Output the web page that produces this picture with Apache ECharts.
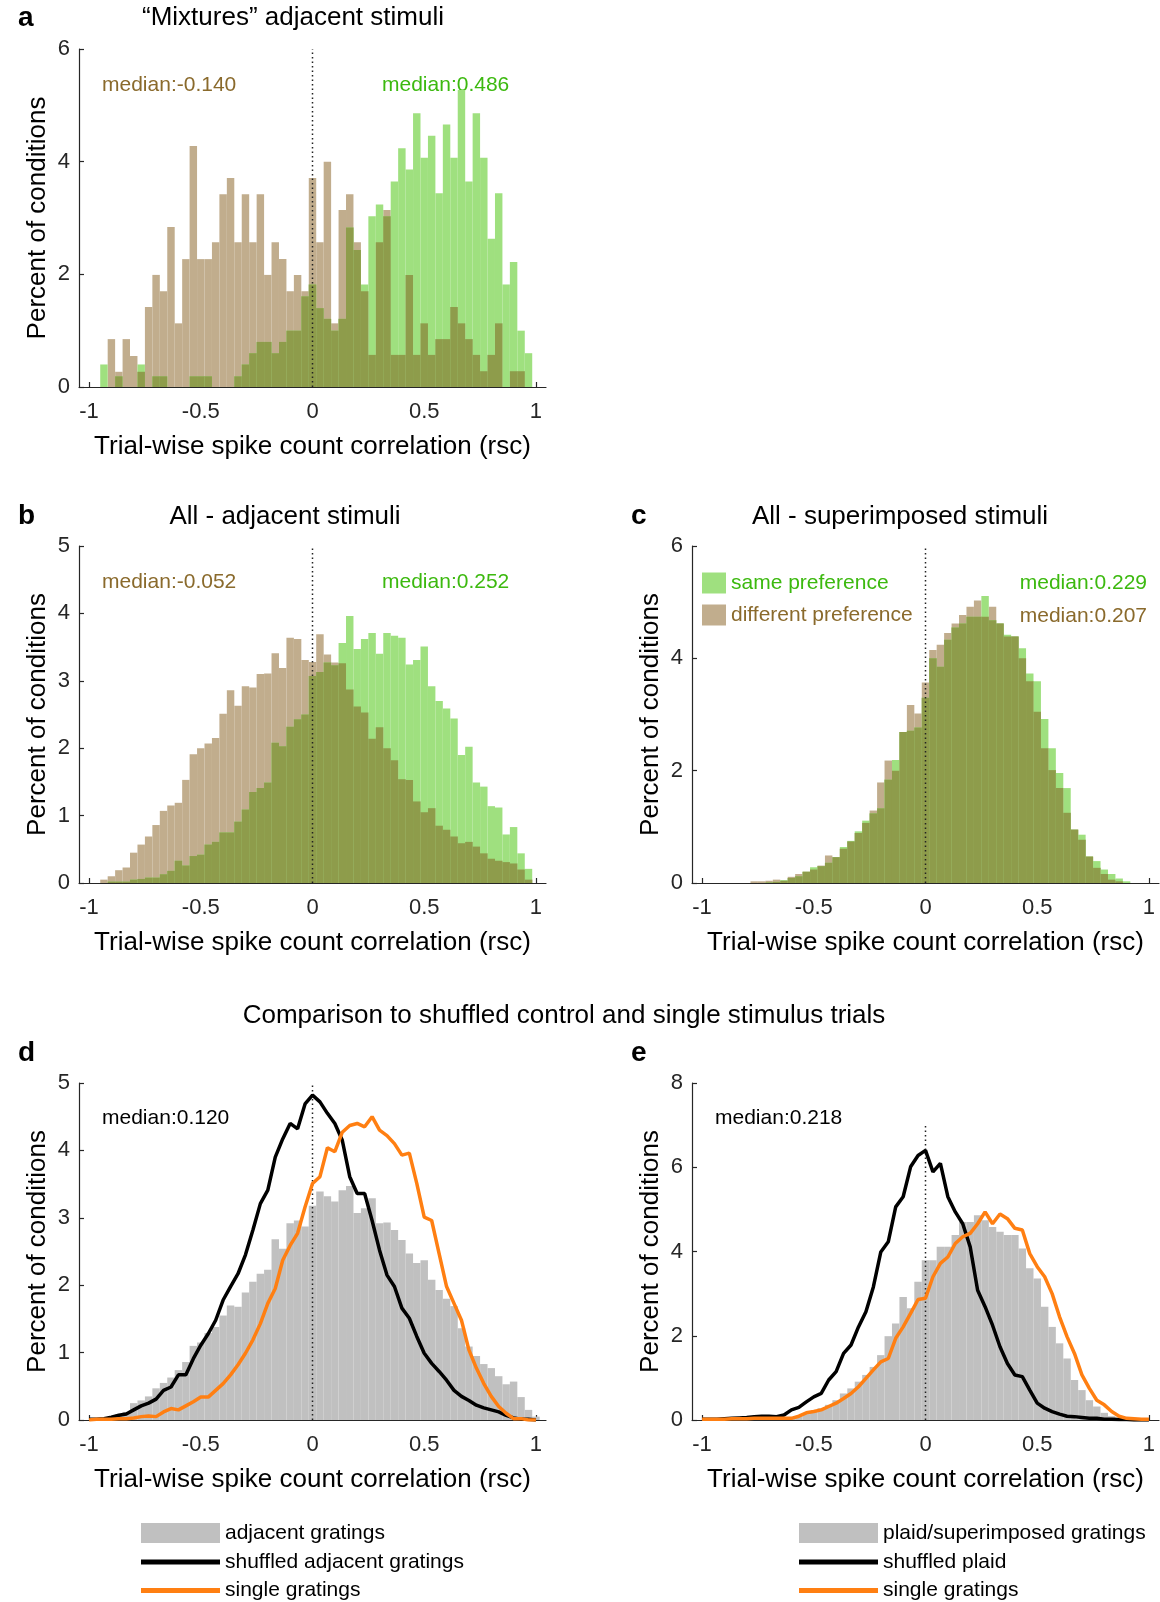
<!DOCTYPE html>
<html>
<head>
<meta charset="utf-8">
<script src="https://cdn.jsdelivr.net/npm/echarts@6/dist/echarts.min.js"></script>
<style>
  html, body { margin: 0; padding: 0; background: #fff; }
  #main { width: 1160px; height: 1602px; }
</style>
</head>
<body>
<div id="main"></div>
<script>
// histogram bins are 1/30 wide, centred on k/30 (k = -29..30); curves sampled on k/30 (k = -30..30)
var BIN_W = 1 / 30;
var binCenters = Array.from({length: 60}, function (_, i) { return (i - 29) / 30; });
var lineX = Array.from({length: 61}, function (_, i) { return (i - 30) / 30; });
var xTicks = [-1, -0.5, 0, 0.5, 1];

// panel a: "Mixtures" adjacent stimuli (percent of conditions per bin)
var aSame = [0, 0.40, 0, 0.19, 0, 0, 0.40, 0, 0.19, 0.19,
  0, 0, 0, 0.19, 0.19, 0.19, 0, 0, 0, 0.19,
  0.40, 0.60, 0.80, 0.80, 0.60, 0.80, 1.00, 1.00, 1.61, 1.82,
  1.40, 1.21, 1.00, 1.21, 2.83, 2.43, 1.82, 3.03, 3.24, 3.03,
  3.65, 4.24, 3.86, 4.86, 4.07, 4.46, 3.44, 4.66, 4.07, 5.27,
  3.65, 4.86, 4.07, 2.63, 3.44, 1.82, 2.22, 1.00, 0.60, 0];
var aDiff = [0, 0, 0.85, 0.27, 0.85, 0.55, 0.27, 1.42, 1.99, 1.70,
  2.84, 1.13, 2.27, 4.28, 2.27, 2.27, 2.57, 3.42, 3.71, 2.57,
  3.42, 2.57, 3.42, 1.99, 2.57, 2.27, 1.70, 1.99, 1.70, 3.71,
  2.57, 4.00, 1.13, 3.14, 3.42, 2.57, 1.70, 0.57, 2.57, 3.14,
  0.57, 0.57, 1.99, 0.57, 1.13, 0.57, 0.85, 0.85, 1.42, 1.13,
  0.85, 0.57, 0.28, 0.57, 1.13, 0, 0.28, 0.28, 0, 0];

// panel b: all - adjacent stimuli
var bSame = [0, 0, 0.02, 0.02, 0.02, 0.05, 0.06, 0.08, 0.08, 0.13,
  0.18, 0.33, 0.26, 0.40, 0.42, 0.57, 0.61, 0.75, 0.75, 0.91,
  1.09, 1.35, 1.41, 1.49, 2.08, 2.03, 2.32, 2.43, 2.50, 3.07,
  3.13, 3.27, 3.23, 3.56, 3.96, 3.47, 3.62, 3.71, 3.40, 3.71,
  3.67, 3.64, 3.24, 3.31, 3.51, 2.92, 2.70, 2.59, 2.44, 1.90,
  2.02, 1.49, 1.43, 1.14, 1.12, 0.72, 0.83, 0.44, 0.21, 0];
var bDiff = [0, 0.05, 0.10, 0.19, 0.23, 0.45, 0.57, 0.69, 0.86, 1.07,
  1.15, 1.19, 1.53, 1.91, 2.00, 2.07, 2.15, 2.51, 2.86, 2.63,
  2.92, 2.90, 3.10, 3.11, 3.41, 3.19, 3.64, 3.62, 3.31, 3.28,
  3.69, 3.39, 3.27, 3.26, 2.87, 2.62, 2.53, 2.14, 2.31, 2.00,
  1.82, 1.54, 1.53, 1.21, 1.05, 1.11, 0.85, 0.79, 0.69, 0.59,
  0.61, 0.54, 0.44, 0.36, 0.33, 0.31, 0.29, 0.20, 0.05, 0];

// panel c: all - superimposed stimuli
var cSame = [0, 0, 0, 0, 0, 0, 0, 0, 0.01, 0.02,
  0.05, 0.09, 0.12, 0.20, 0.28, 0.30, 0.36, 0.46, 0.64, 0.75,
  0.92, 1.11, 1.24, 1.33, 1.84, 2.19, 2.69, 2.71, 2.77, 3.30,
  4.00, 3.85, 4.33, 4.55, 4.62, 4.74, 4.74, 5.11, 4.68, 4.62,
  4.42, 4.39, 4.18, 3.73, 3.59, 2.92, 2.40, 1.96, 1.69, 0.95,
  0.86, 0.47, 0.39, 0.24, 0.16, 0.08, 0.03, 0, 0, 0];
var cDiff = [0, 0, 0, 0, 0, 0, 0.03, 0.03, 0.04, 0.06,
  0.04, 0.11, 0.16, 0.20, 0.24, 0.31, 0.49, 0.46, 0.61, 0.74,
  0.89, 1.07, 1.29, 1.79, 2.18, 2.00, 2.69, 3.17, 3.02, 3.57,
  4.15, 4.24, 4.45, 4.62, 4.77, 4.92, 5.03, 4.74, 4.92, 4.62,
  4.39, 4.39, 4.00, 3.59, 3.05, 2.40, 2.01, 1.69, 1.25, 0.95,
  0.77, 0.47, 0.27, 0.16, 0.06, 0.03, 0, 0, 0, 0];

// panel d: adjacent gratings vs shuffled / single
var dAdj = [0.02, 0.03, 0.05, 0.08, 0.12, 0.25, 0.29, 0.35, 0.47, 0.55,
  0.63, 0.74, 0.86, 1.10, 1.15, 1.29, 1.38, 1.55, 1.70, 1.68,
  1.89, 2.05, 2.17, 2.23, 2.68, 2.54, 2.92, 2.96, 2.87, 3.18,
  3.39, 3.32, 3.24, 3.41, 3.47, 3.07, 3.14, 3.29, 2.92, 2.93,
  2.82, 2.67, 2.47, 2.33, 2.37, 2.08, 1.93, 1.80, 1.69, 1.36,
  1.09, 0.95, 0.83, 0.77, 0.65, 0.53, 0.57, 0.34, 0.15, 0.05];
var dShuf = [0.01, 0.01, 0.02, 0.04, 0.07, 0.09, 0.15, 0.21, 0.25, 0.31,
  0.44, 0.49, 0.67, 0.67, 0.91, 1.11, 1.28, 1.48, 1.78, 1.98,
  2.17, 2.45, 2.82, 3.21, 3.41, 3.90, 4.17, 4.40, 4.32, 4.69,
  4.82,
  4.72, 4.55, 4.40, 4.15, 3.61, 3.36, 3.36, 2.96, 2.52, 2.15,
  1.98, 1.66, 1.51, 1.24, 0.99, 0.84, 0.72, 0.59, 0.44, 0.35,
  0.29, 0.22, 0.18, 0.15, 0.12, 0.07, 0.03, 0.01, 0.01, 0];
var dSingle = [0, 0.01, 0.01, 0.01, 0.02, 0.02, 0.03, 0.05, 0.06, 0.05,
  0.12, 0.17, 0.15, 0.21, 0.27, 0.34, 0.34, 0.44, 0.54, 0.67,
  0.82, 0.99, 1.19, 1.43, 1.73, 1.95, 2.37, 2.59, 2.77, 3.16,
  3.51,
  3.61, 4.04, 3.98, 4.27, 4.37, 4.40, 4.35, 4.50, 4.30, 4.22,
  4.10, 3.93, 3.96, 3.51, 3.01, 2.96, 2.47, 1.98, 1.73, 1.48,
  1.04, 0.77, 0.54, 0.35, 0.20, 0.10, 0.02, 0.02, 0, 0];

// panel e: plaid/superimposed gratings vs shuffled / single
var eAdj = [0, 0, 0, 0.01, 0.01, 0.01, 0.01, 0.01, 0.01, 0.02,
  0.04, 0.06, 0.09, 0.14, 0.20, 0.28, 0.36, 0.47, 0.63, 0.75,
  0.91, 1.07, 1.26, 1.54, 1.99, 2.29, 2.92, 2.65, 3.28, 3.79,
  3.79, 4.11, 4.11, 4.39, 4.70, 4.70, 4.86, 4.74, 4.58, 4.47,
  4.39, 4.39, 4.07, 3.60, 3.36, 2.69, 2.21, 1.82, 1.46, 0.95,
  0.71, 0.47, 0.32, 0.17, 0.09, 0.04, 0.02, 0.01, 0, 0];
var eShuf = [0.02, 0.02, 0.02, 0.03, 0.04, 0.05, 0.06, 0.08, 0.09, 0.09,
  0.08, 0.12, 0.24, 0.30, 0.43, 0.55, 0.63, 0.95, 1.15, 1.58,
  1.78, 2.21, 2.57, 3.16, 3.99, 4.23, 5.06, 5.30, 6.01, 6.28,
  6.40,
  5.89, 6.09, 5.30, 4.94, 4.66, 4.11, 3.08, 2.69, 2.25, 1.74,
  1.34, 1.07, 1.03, 0.71, 0.40, 0.28, 0.20, 0.14, 0.09, 0.08,
  0.06, 0.04, 0.04, 0.02, 0.02, 0.01, 0.01, 0, 0, 0];
var eSingle = [0.02, 0.02, 0.02, 0.02, 0.03, 0.03, 0.03, 0.04, 0.04, 0.04,
  0.04, 0.04, 0.04, 0.09, 0.17, 0.20, 0.24, 0.32, 0.40, 0.51,
  0.63, 0.79, 0.99, 1.19, 1.38, 1.46, 1.94, 2.21, 2.53, 2.86,
  2.89,
  3.40, 3.72, 3.87, 4.19, 4.35, 4.43, 4.66, 4.94, 4.66, 4.89,
  4.78, 4.55, 4.51, 3.95, 3.64, 3.40, 3.00, 2.45, 1.98, 1.58,
  1.07, 0.75, 0.47, 0.36, 0.20, 0.09, 0.04, 0.03, 0.02, 0.02];

var FONT = '"Liberation Sans", Arial, sans-serif';
var AX = '#262626';
var SAME = '#9fe07f', DIFF = '#c1ad8d', BOTH = '#8e9c4b', GRAY = '#c0c0c0', ORANGE = '#ff7f12';
var SAME_TXT = '#3cb90f', DIFF_TXT = '#8a6a2c';

var myChart = echarts.init(document.getElementById('main'), null, {renderer: 'canvas'});

function histSeries(name, gi, values, color) {
  return {
    type: 'custom', name: name, xAxisIndex: gi, yAxisIndex: gi,
    itemStyle: {color: color}, silent: true,
    data: binCenters.map(function (x, i) { return [x, values[i]]; }),
    renderItem: function (params, api) {
      var h = api.value(1);
      if (!h) return null;
      var x = api.value(0);
      var tl = api.coord([x - BIN_W / 2, h]);
      var br = api.coord([x + BIN_W / 2, 0]);
      return {
        type: 'rect',
        shape: {x: tl[0], y: tl[1], width: br[0] - tl[0], height: br[1] - tl[1]},
        style: {fill: color}
      };
    }
  };
}

// two overlapping translucent histograms: the shared part is drawn olive
function pairSeries(gi, same, diff) {
  var both = same.map(function (v, i) { return Math.min(v, diff[i]); });
  return [
    histSeries('different preference', gi, diff, DIFF),
    histSeries('same preference', gi, same, SAME),
    histSeries('overlap', gi, both, BOTH)
  ];
}

function zeroLine(gi, top) {
  return {
    type: 'line', xAxisIndex: gi, yAxisIndex: gi, silent: true, symbol: 'none',
    data: [[0, 0], [0, top]],
    lineStyle: {color: '#222', width: 1.5, type: [1.5, 3]}
  };
}

function curve(name, gi, values, color) {
  return {
    type: 'line', name: name, xAxisIndex: gi, yAxisIndex: gi, silent: true,
    showSymbol: false, itemStyle: {color: color},
    lineStyle: {color: color, width: 3.5},
    data: lineX.map(function (x, i) { return [x, values[i]]; })
  };
}

function xAxisCfg(gi) {
  return {
    type: 'value', gridIndex: gi, min: -1.045, max: 1.045,
    name: 'Trial-wise spike count correlation (rsc)', nameLocation: 'middle', nameGap: 47,
    nameTextStyle: {fontSize: 26, color: '#000', fontFamily: FONT},
    axisLine: {onZero: false, lineStyle: {color: AX, width: 1.2}},
    axisTick: {inside: true, length: 5, customValues: xTicks, lineStyle: {color: AX, width: 1.2}},
    axisLabel: {customValues: xTicks, fontSize: 22, margin: 14, color: AX, fontFamily: FONT},
    splitLine: {show: false}
  };
}

function yAxisCfg(gi, max, interval) {
  return {
    type: 'value', gridIndex: gi, min: 0, max: max, interval: interval,
    name: 'Percent of conditions', nameLocation: 'middle', nameGap: 28,
    nameTextStyle: {fontSize: 26, color: '#000', fontFamily: FONT},
    axisLine: {show: true, onZero: false, lineStyle: {color: AX, width: 1.2}},
    axisTick: {show: true, inside: true, length: 5, lineStyle: {color: AX, width: 1.2}},
    axisLabel: {fontSize: 22, margin: 9, color: AX, fontFamily: FONT},
    splitLine: {show: false}
  };
}

function txt(x, y, text, opts) {
  opts = opts || {};
  var align = opts.align || 'left';
  return {
    type: 'text', x: x, y: y, silent: true,
    style: {
      text: text, fill: opts.color || '#000',
      fontSize: opts.size || 21, fontWeight: opts.weight || 'normal', fontFamily: FONT,
      align: align, textAlign: align, verticalAlign: 'middle', textVerticalAlign: 'middle'
    }
  };
}

function legendCfg(left, top, h, gap, items) {
  return {
    left: left, top: top, height: 120, orient: 'vertical', padding: 0,
    itemWidth: 79, itemHeight: h, itemGap: gap, selectedMode: false,
    textStyle: {fontSize: 21, fontFamily: FONT, color: '#000', lineHeight: 24},
    data: items.map(function (n) { return {name: n, icon: 'rect'}; })
  };
}

var series = [].concat(
  pairSeries(0, aSame, aDiff), [zeroLine(0, 6)],
  pairSeries(1, bSame, bDiff), [zeroLine(1, 5)],
  pairSeries(2, cSame, cDiff), [zeroLine(2, 6)],
  [histSeries('adjacent gratings', 3, dAdj, GRAY), zeroLine(3, 5),
   curve('shuffled adjacent gratings', 3, dShuf, '#000'), curve('single gratings', 3, dSingle, ORANGE)],
  [histSeries('plaid/superimposed gratings', 4, eAdj, GRAY), zeroLine(4, 7),
   curve('shuffled plaid', 4, eShuf, '#000'), curve('single gratings', 4, eSingle, ORANGE)]
);

myChart.setOption({
  animation: false,
  backgroundColor: '#fff',
  grid: [
    {left: 79, top: 49, width: 467, height: 338},
    {left: 79, top: 546, width: 467, height: 337},
    {left: 692, top: 546, width: 467, height: 337},
    {left: 79, top: 1083, width: 467, height: 337},
    {left: 692, top: 1083, width: 467, height: 337}
  ],
  xAxis: [0, 1, 2, 3, 4].map(xAxisCfg),
  yAxis: [yAxisCfg(0, 6, 2), yAxisCfg(1, 5, 1), yAxisCfg(2, 6, 2), yAxisCfg(3, 5, 1), yAxisCfg(4, 8, 2)],
  legend: [
    {
      left: 702, top: 571, height: 120, orient: 'vertical', padding: 0,
      itemWidth: 24, itemHeight: 21, itemGap: 8, selectedMode: false,
      textStyle: {fontSize: 21, fontFamily: FONT, lineHeight: 24},
      data: [
        {name: 'same preference', icon: 'rect', textStyle: {color: SAME_TXT}},
        {name: 'different preference', icon: 'rect', textStyle: {color: DIFF_TXT}}
      ]
    },
    legendCfg(141, 1521, 20, 4, ['adjacent gratings']),
    legendCfg(141, 1550, 5, 4.5, ['shuffled adjacent gratings', 'single gratings']),
    legendCfg(799, 1521, 20, 4, ['plaid/superimposed gratings']),
    legendCfg(799, 1550, 5, 4.5, ['shuffled plaid', 'single gratings'])
  ],
  graphic: [
    txt(18, 18, 'a', {size: 28, weight: 'bold'}),
    txt(18, 516, 'b', {size: 28, weight: 'bold'}),
    txt(631, 516, 'c', {size: 28, weight: 'bold'}),
    txt(18, 1053, 'd', {size: 28, weight: 'bold'}),
    txt(631, 1053, 'e', {size: 28, weight: 'bold'}),
    txt(293, 18, '\u201CMixtures\u201D adjacent stimuli', {size: 26, align: 'center'}),
    txt(285, 517, 'All - adjacent stimuli', {size: 26, align: 'center'}),
    txt(900, 517, 'All - superimposed stimuli', {size: 26, align: 'center'}),
    txt(564, 1016, 'Comparison to shuffled control and single stimulus trials', {size: 26, align: 'center'}),
    txt(102, 85, 'median:-0.140', {color: DIFF_TXT}),
    txt(382, 85, 'median:0.486', {color: SAME_TXT}),
    txt(102, 582, 'median:-0.052', {color: DIFF_TXT}),
    txt(382, 582, 'median:0.252', {color: SAME_TXT}),
    txt(1147, 583, 'median:0.229', {color: SAME_TXT, align: 'right'}),
    txt(1147, 616, 'median:0.207', {color: DIFF_TXT, align: 'right'}),
    txt(102, 1118, 'median:0.120'),
    txt(715, 1118, 'median:0.218')
  ],
  series: series
});
</script>
</body>
</html>
